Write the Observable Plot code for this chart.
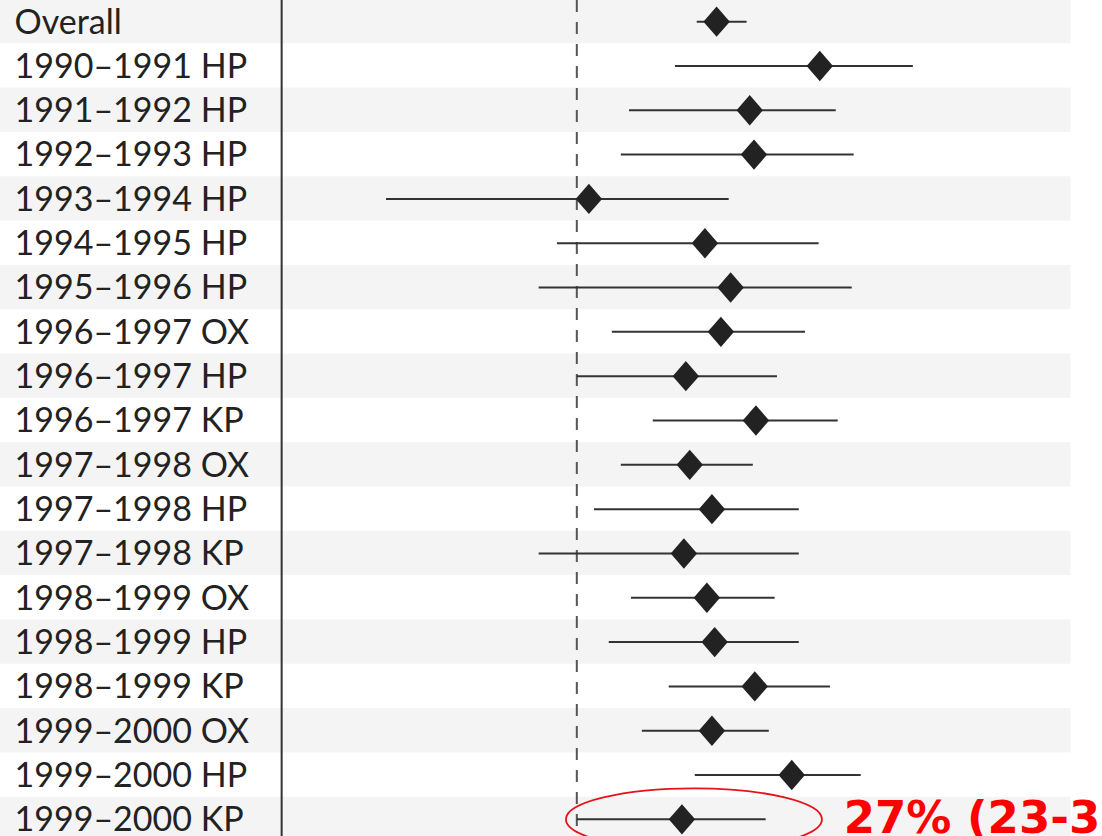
<!DOCTYPE html>
<html>
<head>
<meta charset="utf-8">
<script src="https://cdn.jsdelivr.net/npm/d3@7"></script>
<script src="https://cdn.jsdelivr.net/npm/@observablehq/plot@0.6"></script>
<style>
  html, body { margin: 0; padding: 0; background: #fff; overflow: hidden; }
  #chart svg { display: block; }
</style>
</head>
<body>
<div id="chart"></div>
<script>
// Row labels (top to bottom)
const labels = [
  "Overall",
  "1990–1991 HP", "1991–1992 HP", "1992–1993 HP", "1993–1994 HP",
  "1994–1995 HP", "1995–1996 HP",
  "1996–1997 OX", "1996–1997 HP", "1996–1997 KP",
  "1997–1998 OX", "1997–1998 HP", "1997–1998 KP",
  "1998–1999 OX", "1998–1999 HP", "1998–1999 KP",
  "1999–2000 OX", "1999–2000 HP", "1999–2000 KP"
];
// Point estimates and confidence limits (estimated, %)
const estimate = [35.9, 62.4, 44.4, 45.5, 3.1, 32.9, 39.5, 37.0, 28.0, 46.0, 29.0, 34.7, 27.5, 33.4, 35.4, 45.7, 34.7, 55.2, 27.0];
const lower    = [30.8, 25.2, 13.4, 11.3, -49.0, -5.1, -9.8, 9.0, 0.0, 19.5, 11.3, 4.4, -9.8, 13.9, 8.2, 23.6, 16.7, 30.3, 0.0];
const upper    = [43.6, 86.3, 66.5, 71.1, 39.0, 62.1, 70.6, 58.6, 51.4, 67.0, 45.2, 57.0, 57.0, 50.8, 57.0, 65.0, 49.3, 72.9, 48.5];
// Highlight annotation
const highlightLabel = ["1999–2000 KP"];
const highlightText = ["27% (23-3"];

const rows = labels.map((label, i) => ({label, est: estimate[i], lo: lower[i], hi: upper[i], i}));
const stripes = rows.filter(d => d.i % 2 === 0);
const hl = rows.filter(d => highlightLabel.includes(d.label)).map((d, k) => ({...d, text: highlightText[k]}));

const xMin = -148, xMax = 135;
const stripeEnd = 126.9;
const separatorX = -75.8;

// Custom rhombus (slightly taller than wide)
const rhombus = {
  draw(ctx, size) {
    const h = Math.sqrt(size / (2 * 0.87));
    const w = 0.87 * h;
    ctx.moveTo(0, -h); ctx.lineTo(w, 0); ctx.lineTo(0, h); ctx.lineTo(-w, 0); ctx.closePath();
  }
};
// Ellipse symbol for highlight
const ellipse = {
  draw(ctx) {
    const rx = 128, ry = 31, k = 0.5523;
    ctx.moveTo(-rx, 0);
    ctx.bezierCurveTo(-rx, -ry * k, -rx * k, -ry, 0, -ry);
    ctx.bezierCurveTo(rx * k, -ry, rx, -ry * k, rx, 0);
    ctx.bezierCurveTo(rx, ry * k, rx * k, ry, 0, ry);
    ctx.bezierCurveTo(-rx * k, ry, -rx, ry * k, -rx, 0);
    ctx.closePath();
  }
};

const chart = Plot.plot({
  width: 1102,
  height: 836,
  margin: 0,
  x: {domain: [xMin, xMax], axis: null},
  y: {domain: labels, range: [-1, 841], padding: 0, round: false, axis: null},
  style: {background: "#fff", overflow: "visible"},
  marks: [
    Plot.barX(stripes, {x1: xMin, x2: stripeEnd, y: "label", fill: "#f4f4f4", inset: 0}),
    Plot.ruleX([separatorX], {stroke: "#333", strokeWidth: 2}),
    Plot.ruleX([0], {stroke: "#555", strokeWidth: 2, strokeDasharray: "12,10"}),
    Plot.link(rows, {x1: "lo", x2: "hi", y1: "label", y2: "label", stroke: "#333", strokeWidth: 2}),
    Plot.dot(rows, {x: "est", y: "label", symbol: rhombus, r: 11.3, fill: "#222", stroke: "none"}),
    Plot.text(rows, {y: "label", text: "label", frameAnchor: "left", dx: 14, dy: 1, textAnchor: "start",
      fontFamily: "Lato", fontSize: 34, fill: "#222"}),
    Plot.dot(hl, {x: "est", y: "label", dx: 12, dy: 0, symbol: ellipse, r: 10, fill: "none", stroke: "#e8101a", strokeWidth: 1.8}),
    Plot.text(hl, {x: "hi", y: "label", text: "text", dx: 78, dy: -1, textAnchor: "start",
      fontFamily: "DejaVu Sans", fontWeight: "bold", fontSize: 45, fill: "#ff0000"})
  ]
});
document.getElementById("chart").appendChild(chart);
</script>
</body>
</html>
